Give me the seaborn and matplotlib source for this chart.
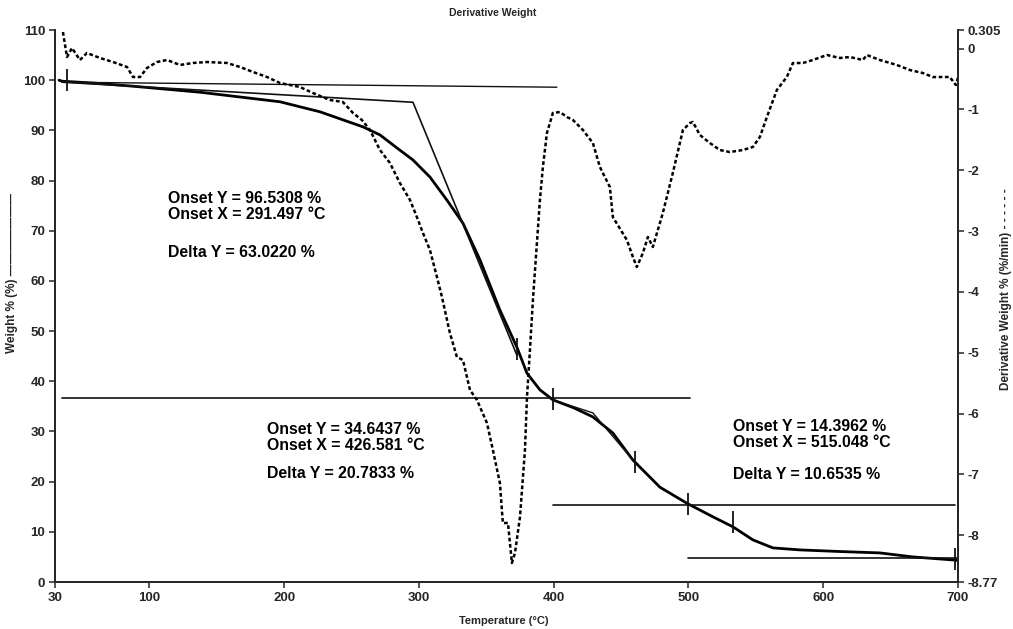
import numpy as np
import pandas as pd
import matplotlib
matplotlib.use("Agg")
import matplotlib.pyplot as plt
import seaborn as sns

# ---- Weight % curve (solid) ----
temp_w = [33.0, 35.2, 60.0, 87.9, 137.6, 196.9, 226.6, 258.5, 271.1, 283.7, 295.6, 308.2,
          320.8, 332.7, 345.3, 360.1, 372.7, 380.2, 389.8, 399.4, 415.0, 429.1, 443.9,
          458.8, 478.8, 498.8, 518.1, 533.0, 547.8, 562.6, 582.7, 610.0, 642.0, 666.5,
          696.2, 700.0]
weight = [100.0, 99.8, 99.4, 98.8, 97.6, 95.7, 93.7, 90.7, 89.1, 86.5, 84.1, 80.7,
          76.1, 71.5, 64.2, 54.2, 46.8, 41.6, 38.3, 36.3, 34.7, 32.9, 29.7,
          24.3, 18.9, 15.7, 13.0, 11.0, 8.4, 6.8, 6.4, 6.1, 5.8, 5.0,
          4.4, 4.3]

# ---- Derivative weight curve (dotted) ----
temp_d = [35.9, 38.9, 42.6, 48.5, 53.7, 63.4, 73.0, 83.4, 87.9, 93.1, 98.2, 105.7, 113.1,
          122.7, 132.4, 142.8, 157.6, 167.2, 176.9, 187.3, 196.9, 211.7, 221.4, 234.0,
          243.6, 251.1, 257.7, 263.7, 271.1, 278.5, 285.9, 293.4, 298.5, 303.0, 308.2,
          313.4, 317.1, 323.0, 328.2, 332.7, 337.9, 343.1, 350.5, 354.9, 360.1, 362.3,
          366.1, 369.0, 371.3, 375.0, 378.7, 380.2, 382.4, 384.6, 389.8, 392.0, 395.0,
          399.4, 404.6, 409.8, 414.3, 421.7, 429.1, 434.3, 436.5, 441.7, 443.9, 454.3,
          458.8, 461.7, 466.2, 469.9, 473.6, 481.0, 488.4, 495.9, 501.1, 503.3, 508.5,
          515.9, 523.3, 530.7, 540.4, 547.8, 553.0, 558.2, 565.6, 573.0, 577.5, 584.9,
          592.3, 602.7, 612.3, 619.8, 629.4, 632.4, 642.0, 654.6, 664.3, 673.9, 681.3,
          693.9, 698.4, 699.9]
deriv = [0.272, -0.139, 0.009, -0.188, -0.073, -0.155, -0.221, -0.303, -0.468, -0.468,
         -0.320, -0.221, -0.188, -0.270, -0.237, -0.221, -0.237, -0.303, -0.385, -0.468,
         -0.566, -0.632, -0.731, -0.846, -0.879, -1.059, -1.174, -1.339, -1.668, -1.881,
         -2.210, -2.490, -2.769, -3.032, -3.312, -3.756, -4.084, -4.676, -5.071, -5.120,
         -5.613, -5.778, -6.156, -6.600, -7.142, -7.800, -7.800, -8.457, -8.293, -7.701,
         -6.600, -5.728, -4.956, -4.134, -2.490, -1.947, -1.388, -1.059, -1.043, -1.125,
         -1.174, -1.339, -1.553, -1.947, -2.046, -2.276, -2.769, -3.147, -3.427, -3.591,
         -3.361, -3.098, -3.262, -2.703, -2.046, -1.339, -1.224, -1.207, -1.421, -1.553,
         -1.668, -1.701, -1.668, -1.618, -1.454, -1.125, -0.681, -0.468, -0.238, -0.238,
         -0.188, -0.106, -0.155, -0.139, -0.188, -0.106, -0.188, -0.270, -0.353, -0.402,
         -0.468, -0.468, -0.599, -0.484]

# ---- Onset analysis construction lines (weight units) ----
base1_t = [35.2, 402.4]
base1_w = [99.6, 98.6]
tan1_t = [35.2, 295.6, 372.7]
tan1_w = [99.6, 95.6, 45.2]
base2_t = [35.2, 501.1]
base2_w = [36.7, 36.7]
tan2_t = [399.4, 429.1, 458.8]
tan2_w = [36.3, 33.7, 24.3]
base3_t = [399.4, 697.7]
base3_w = [15.3, 15.3]
base4_t = [499.6, 699.9]
base4_w = [4.8, 4.8]
mark_t = [38.9, 372.7, 399.4, 460.3, 499.6, 533.0, 697.7]
mark_w = [100.0, 46.5, 36.5, 24.0, 15.5, 12.0, 4.5]

# ---- Annotation texts ----
block1 = ["Onset Y = 96.5308 %", "Onset X = 291.497 °C", "Delta Y = 63.0220 %"]
block2 = ["Onset Y = 34.6437 %", "Onset X = 426.581 °C", "Delta Y = 20.7833 %"]
block3 = ["Onset Y = 14.3962 %", "Onset X = 515.048 °C", "Delta Y = 10.6535 %"]

x_ticks = [30, 100, 200, 300, 400, 500, 600, 700]
y_ticks = [0, 10, 20, 30, 40, 50, 60, 70, 80, 90, 100, 110]
y2_ticks = [0.305, 0, -1, -2, -3, -4, -5, -6, -7, -8, -8.77]
y2_labels = ["0.305", "0", "-1", "-2", "-3", "-4", "-5", "-6", "-7", "-8", "-8.77"]

sns.set_style("ticks")
plt.rcParams['font.family'] = ['Liberation Sans', 'DejaVu Sans']
plt.rcParams['axes.unicode_minus'] = False

fig = plt.figure(figsize=(10.13, 6.29), dpi=100)
ax = fig.add_axes([0.0543, 0.0747, 0.8914, 0.8776])
ax2 = ax.twinx()

dfw = pd.DataFrame({"T": temp_w, "W": weight})
dfd = pd.DataFrame({"T": temp_d, "D": deriv})

sns.lineplot(data=dfw, x="T", y="W", ax=ax, color="black", lw=2.0, sort=False, estimator=None)
sns.lineplot(data=dfd, x="T", y="D", ax=ax2, color="black", lw=1.8, sort=False,
             estimator=None, linestyle=(0, (1.5, 1.0)))

lc = "#111111"
ax.plot(base1_t, base1_w, color=lc, lw=1.0)
ax.plot(tan1_t, tan1_w, color=lc, lw=1.2)
ax.plot(base2_t, base2_w, color=lc, lw=1.2)
ax.plot(tan2_t, tan2_w, color=lc, lw=1.0)
ax.plot(base3_t, base3_w, color=lc, lw=1.2)
ax.plot(base4_t, base4_w, color=lc, lw=1.2)
ax.plot(mark_t, mark_w, linestyle="none", marker="|", markersize=16, mew=1.3, color=lc)

for blk, tx, ys in [(block1, 113.8, [76.4, 73.3, 65.6]),
                    (block2, 187.0, [30.3, 27.2, 21.6]),
                    (block3, 533.0, [31.0, 27.9, 21.5])]:
    for s, yy in zip(blk, ys):
        ax.text(tx, yy, s, fontsize=11.4, fontweight="bold", va="center", ha="left",
                color="black")

ax.set_xlim(30, 700)
ax.set_ylim(0, 110)
ax2.set_ylim(-8.77, 0.305)
ax.set_xticks(x_ticks)
ax.set_xticklabels([str(v) for v in x_ticks])
ax.set_yticks(y_ticks)
ax.set_yticklabels([str(v) for v in y_ticks])
ax2.set_yticks(y2_ticks)
ax2.set_yticklabels(y2_labels)

for a in (ax, ax2):
    a.spines["top"].set_visible(False)
    for sp in a.spines.values():
        sp.set_linewidth(1.3)
    a.tick_params(direction="out", length=4, width=1.1, labelsize=9.5, pad=3)
    for lab in a.get_xticklabels() + a.get_yticklabels():
        lab.set_fontweight("bold")

ax.set_xlabel("Temperature (°C)", fontsize=8, fontweight="bold")
ax.xaxis.set_label_coords(0.497, -0.062)
ax.set_ylabel("Weight % (%) ———————", fontsize=8.5, fontweight="bold")
ax.yaxis.set_label_coords(-0.041, 0.56)
ax2.set_ylabel("Derivative Weight % (%/min) - - - - - -", fontsize=8.5, fontweight="bold",
               rotation=90)
ax2.yaxis.set_label_coords(1.046, 0.53)
ax.set_title("Derivative Weight", fontsize=7.5, fontweight="bold", pad=10, x=0.485)

fig.savefig("out.png", dpi=100)
